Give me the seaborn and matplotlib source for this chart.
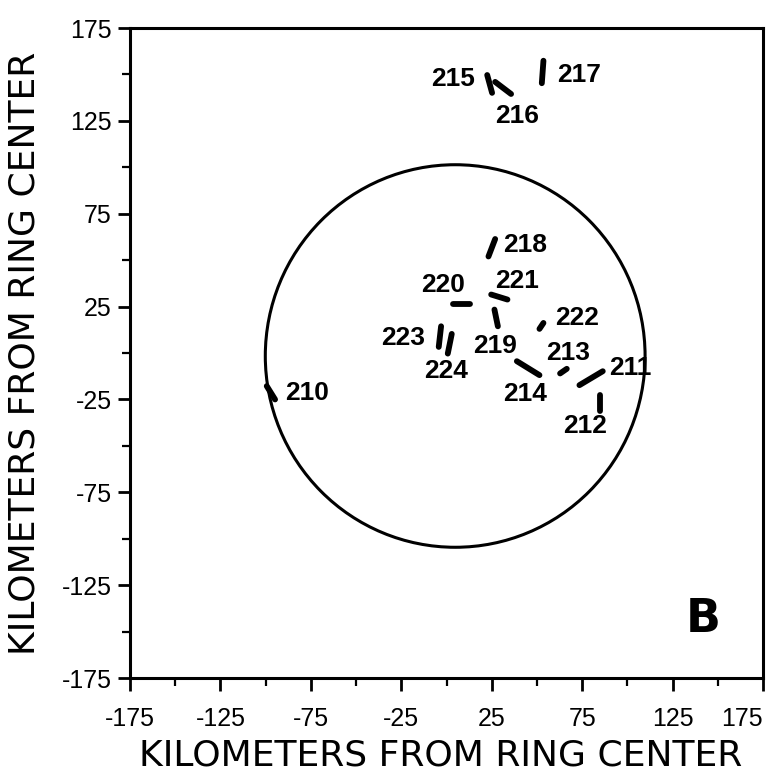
import numpy as np
import pandas as pd
import seaborn as sns
import matplotlib.pyplot as plt
from matplotlib.patches import Ellipse

# buoy tracks (km from ring center)
buoys = ['210', '211', '212', '213', '214', '215', '216', '217',
         '218', '219', '220', '221', '222', '223', '224']
x_start = [-99.4, 73.5, 84.6, 62.8, 38.9, 22.5, 26.9, 53.6,
           26.9, 26.5, 3.5, 24.7, 51.4, -3.0, 2.9]
y_start = [-17.8, -17.3, -22.8, -11.0, -4.4, 149.7, 146.0, 157.4,
           61.4, 23.4, 26.6, 31.5, 13.0, 14.4, 10.3]
x_end = [-94.8, 86.4, 84.6, 66.5, 51.4, 25.2, 35.7, 52.7,
         23.2, 28.4, 13.1, 33.7, 53.6, -4.3, 0.7]
y_end = [-25.0, -9.8, -31.3, -8.5, -11.9, 140.1, 139.5, 145.3,
         52.0, 14.4, 26.6, 28.8, 16.2, 3.3, -0.3]
label_x = [-77.3, 101.5, 76.7, 67.4, 43.5, 3.7, 38.9, 73.3,
           43.5, 26.9, -1.7, 38.9, 72.1, -23.8, -0.2]
label_y = [-21.4, -8.0, -39.4, 0.1, -22.3, 147.6, 127.7, 149.7,
           58.3, 4.0, 36.8, 38.6, 18.9, 8.2, -9.8]

ring_x, ring_y = 4.8, -1.6
ring_w, ring_h = 210, 206

ticks_major = [-175, -125, -75, -25, 25, 75, 125, 175]
ticks_minor = [-150, -100, -50, 0, 50, 100, 150]
tick_text = ['-175', '-125', '-75', '-25', '25', '75', '125', '175']

seg_df = pd.DataFrame({
    'buoy': buoys + buoys,
    'x': x_start + x_end,
    'y': y_start + y_end,
})

sns.set_style('ticks')
plt.rcParams['font.family'] = ['DejaVu Sans']
plt.rcParams['text.color'] = 'black'
plt.rcParams['axes.labelcolor'] = 'black'
plt.rcParams['xtick.color'] = 'black'
plt.rcParams['ytick.color'] = 'black'

fig = plt.figure(figsize=(7.8, 7.77), dpi=100)
ax = fig.add_axes([0.1667, 0.1274, 0.8115, 0.8365])

sns.lineplot(data=seg_df, x='x', y='y', units='buoy', estimator=None, sort=False,
             color='black', lw=4.2, solid_capstyle='round', legend=False, ax=ax)

ax.add_patch(Ellipse((ring_x, ring_y), ring_w, ring_h, fill=False, ec='black', lw=2.2))

for name, lx, ly in zip(buoys, label_x, label_y):
    ax.text(lx, ly, name, ha='center', va='center', fontsize=19,
            fontweight='bold', family='Liberation Sans', color='black')

ax.text(141.9, -143.3, 'B', ha='center', va='center', fontsize=33,
        fontweight='bold', color='black')

ax.set_xlim(-175, 175)
ax.set_ylim(-175, 175)
ax.set_xticks(ticks_major)
ax.set_yticks(ticks_major)
ax.set_xticks(ticks_minor, minor=True)
ax.set_yticks(ticks_minor, minor=True)
ax.set_xticklabels(tick_text, family='Liberation Sans', fontsize=18)
ax.set_yticklabels(tick_text, family='Liberation Sans', fontsize=18)
ax.get_xticklabels()[-1].set_ha('right')
ax.tick_params(which='major', direction='out', length=9, width=2, color='black')
ax.tick_params(which='minor', direction='out', length=6, width=1.6, color='black')
ax.tick_params(axis='x', which='major', pad=12)
ax.tick_params(axis='y', which='major', pad=4)

for side in ['left', 'right', 'top', 'bottom']:
    ax.spines[side].set_visible(True)
    ax.spines[side].set_linewidth(2.2)
    ax.spines[side].set_color('black')

ax.set_xlabel('KILOMETERS FROM RING CENTER', fontsize=26, va='center')
ax.set_ylabel('KILOMETERS FROM RING CENTER', fontsize=26, va='center')
ax.xaxis.set_label_coords(0.49, -0.119)
ax.yaxis.set_label_coords(-0.166, 0.5)

fig.savefig('out.png', dpi=100, facecolor='white')
